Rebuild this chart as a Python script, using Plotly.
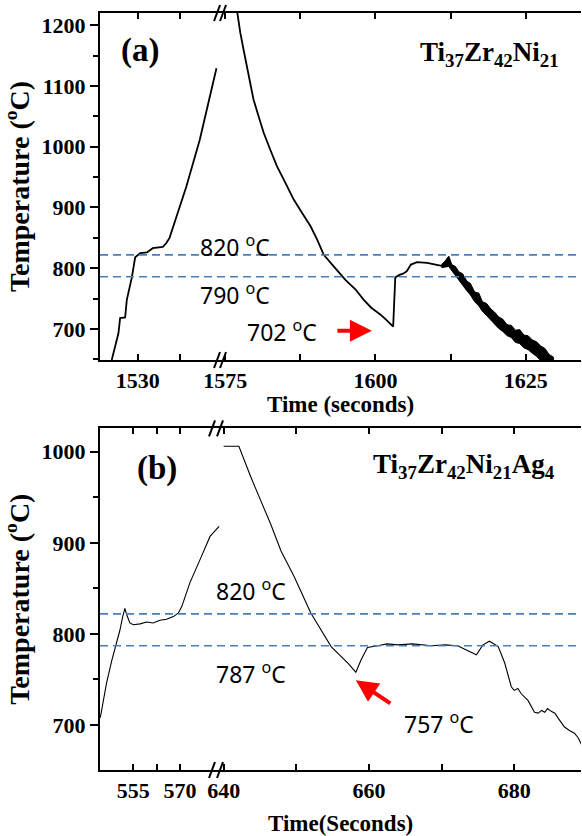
import plotly.graph_objects as go

# ---------------- data ----------------
# Panel (a) Ti37Zr42Ni21 : left (heating) segment
a_left_t = [1526.9, 1527.7, 1527.9, 1528.5, 1528.7, 1529.3, 1529.7, 1530.3, 1531.1,
            1531.8, 1533.0, 1533.4, 1533.8, 1534.6, 1535.8, 1537.4, 1538.2, 1539.4]
a_left_T = [649, 693, 718, 719, 748, 785, 818, 825, 826,
            833, 835, 841, 850, 884, 934, 1011, 1060, 1129]
# Panel (a) right (cooling / recalescence) segment
a_right_t = [1576.8, 1577.0, 1577.2, 1577.5, 1578.05, 1578.6, 1579.2, 1579.7, 1580.55,
             1581.4, 1582.5, 1583.6, 1585.0, 1586.4, 1587.8, 1589.2, 1590.3, 1591.4,
             1593.05, 1595.0, 1596.7, 1598.05, 1599.3, 1600.8, 1601.8, 1602.95, 1603.1,
             1603.3, 1604.0, 1604.6, 1605.2, 1605.9, 1606.9, 1608.6, 1610.0, 1611.0,
             1611.8, 1612.2]
a_right_T = [1235, 1221, 1204, 1188, 1160, 1133, 1105, 1078, 1050,
             1023, 995, 968, 941, 913, 891, 869, 847, 822,
             803, 781, 765, 748, 735, 724, 715, 704, 740,
             785, 789, 791, 795, 806, 810, 809, 806, 804,
             808, 818]
# Panel (a) noisy band after recalescence (upper / lower envelope)
a_band_t = [1611.0, 1611.6, 1612.2, 1612.7, 1613.3, 1613.9, 1614.5, 1615.2, 1615.8,
            1616.5, 1617.2, 1617.8, 1618.5, 1619.2, 1619.8, 1620.5, 1621.2, 1621.9,
            1622.6, 1623.3, 1624.0, 1624.7, 1625.4, 1626.1, 1626.8, 1627.5, 1628.2,
            1628.9, 1629.6]
a_band_hi = [806, 812, 820, 806, 803, 794, 791, 779, 775,
             761, 759, 745, 742, 733, 728, 720, 716, 707,
             706, 698, 699, 690, 689, 682, 679, 672, 668,
             658, 654]
a_band_lo = [801, 802, 803, 796, 788, 779, 772, 763, 756,
             745, 738, 729, 722, 714, 709, 701, 696, 689,
             686, 678, 676, 669, 666, 660, 655, 648, 645,
             636, 632]
a_dash = [822, 786]

# Panel (b) Ti37Zr42Ni21Ag4 : left segment
b_left_t = [544.4, 546.4, 548.1, 549.7, 550.7, 551.6, 552.3, 552.9, 553.9, 555.0,
            557.2, 559.3, 561.4, 563.6, 565.7, 567.9, 569.5, 570.6, 573.2, 576.4,
            579.7, 582.6]
b_left_T = [708, 746, 771, 790, 804, 819, 828, 821, 812, 810,
            811, 813, 812, 815, 816, 819, 823, 830, 856, 881,
            907, 918]
# Panel (b) right segment
b_right_t = [640.0, 642.1, 643.7, 645.1, 646.5, 647.9, 649.7, 652.0, 654.8, 657.1,
             658.2, 658.9, 659.8, 661.2, 662.5, 664.0, 666.0, 668.6, 670.5, 672.2,
             673.6, 674.8, 675.7, 676.6, 677.8, 678.7, 679.6, 680.0, 680.5, 681.0,
             681.9, 682.4, 682.8, 683.3, 683.8, 684.2, 684.6, 685.1, 685.6, 686.1,
             686.5, 686.9, 687.6, 688.3, 688.8, 689.3]
b_right_T = [1006, 1006, 973, 947, 920, 891, 863, 823, 786, 768,
             758, 771, 785, 787, 789, 788, 789, 787, 788, 787,
             782, 777, 788, 792, 786, 768, 742, 738, 740, 734,
             727, 720, 714, 713, 716, 714, 718, 715, 713, 707,
             702, 698, 694, 691, 686, 678]
b_dash = [822, 787]

# tick definitions
a_left_ticks, a_left_text = [1530, 1535], ["1530", ""]
a_right_ticks, a_right_text = [1575, 1587.5, 1600, 1612.5, 1625], ["1575", "", "1600", "", "1625"]
b_left_ticks, b_left_text = [555, 562.5, 570], ["555", "", "570"]
b_right_ticks, b_right_text = [640, 650, 660, 670, 680], ["640", "", "660", "", "680"]
a_y_ticks = [700, 800, 900, 1000, 1100, 1200]
a_y_minor = [650, 750, 850, 950, 1050, 1150]
b_y_ticks = [700, 800, 900, 1000]
b_y_minor = [650, 750, 850, 950]

# ---------------- layout geometry ----------------
W, H = 582, 836
ML, MR, MT, MB = 100, 1, 13, 66
A_BREAK = 0.2578
B_BREAK = 0.2495
A_DOM = [0.5416, 1.0]
B_DOM = [0.0, 0.4514]

SERIF = "Liberation Serif"
SANS = "Noto Sans"
tickfont = dict(family=SERIF, size=22, color="black")


def bold(labels):
    return ["<b>%s</b>" % s if s else "" for s in labels]


fig = go.Figure()
line = dict(color="black", width=1.8)

fig.add_trace(go.Scatter(x=a_left_t, y=a_left_T, xaxis="x", yaxis="y", mode="lines", line=line))
fig.add_trace(go.Scatter(x=a_right_t, y=a_right_T, xaxis="x2", yaxis="y", mode="lines", line=line))
fig.add_trace(go.Scatter(x=a_band_t + a_band_t[::-1], y=a_band_hi + a_band_lo[::-1],
                         xaxis="x2", yaxis="y", mode="lines", fill="toself",
                         fillcolor="black", line=dict(color="black", width=1)))
thin = dict(color="black", width=1.1)
fig.add_trace(go.Scatter(x=b_left_t, y=b_left_T, xaxis="x3", yaxis="y2", mode="lines", line=thin))
fig.add_trace(go.Scatter(x=b_right_t, y=b_right_T, xaxis="x4", yaxis="y2", mode="lines", line=thin))


def xax(dom, rng, tv, tt, anchor):
    return dict(domain=dom, range=rng, anchor=anchor, showline=True, linecolor="black",
                linewidth=2, mirror="ticks", ticks="inside", ticklen=6, tickwidth=1.5,
                tickcolor="black", tickmode="array", tickvals=tv, ticktext=bold(tt),
                tickfont=tickfont, showgrid=False, zeroline=False, automargin=False)


def yax(dom, rng, anchor, tv, mv):
    return dict(domain=dom, range=rng, anchor=anchor, showline=True, linecolor="black",
                linewidth=2, ticks="outside", ticklen=8, tickwidth=1.5, tickcolor="black",
                tickmode="array", tickvals=tv, ticktext=bold([str(v) for v in tv]),
                tickfont=tickfont, showgrid=False, zeroline=False, automargin=False,
                minor=dict(tickmode="array", tickvals=mv, ticks="outside", ticklen=5,
                           tickwidth=1.5, tickcolor="black", showgrid=False),
                title=dict(text="<b>Temperature (<sup>o</sup>C)</b>",
                           font=dict(family=SERIF, size=28, color="black"), standoff=4))


def yax_right(dom, rng, anchor, over, tv, mv):
    return dict(domain=dom, range=rng, anchor=anchor, overlaying=over, side="right",
                showline=True, linecolor="black", linewidth=2, ticks="inside", ticklen=7,
                tickwidth=1.5, tickcolor="black", tickmode="array", tickvals=sorted(tv + mv),
                showticklabels=False, showgrid=False, zeroline=False, automargin=False)


A_YR = [649, 1220]
B_YR = [650.6, 1025.7]
fig.update_layout(
    width=W, height=H, margin=dict(l=ML, r=MR, t=MT, b=MB, autoexpand=False),
    paper_bgcolor="white", plot_bgcolor="white", showlegend=False,
    xaxis=xax([0, A_BREAK], [1525.5, 1540.3], a_left_ticks, a_left_text, "y"),
    xaxis2=xax([A_BREAK, 1], [1574.8, 1634.2], a_right_ticks, a_right_text, "y"),
    xaxis3=xax([0, B_BREAK], [544.3, 582.9], b_left_ticks, b_left_text, "y2"),
    xaxis4=xax([B_BREAK, 1], [639.5, 689.2], b_right_ticks, b_right_text, "y2"),
    yaxis=yax(A_DOM, A_YR, "x", a_y_ticks, a_y_minor),
    yaxis2=yax(B_DOM, B_YR, "x3", b_y_ticks, b_y_minor),
    yaxis3=yax_right(A_DOM, A_YR, "x2", "y", a_y_ticks, a_y_minor),
    yaxis4=yax_right(B_DOM, B_YR, "x4", "y2", b_y_ticks, b_y_minor),
)

shapes = []
for dash_vals, yref in ((a_dash, "y"), (b_dash, "y2")):
    for v in dash_vals:
        shapes.append(dict(type="line", xref="paper", yref=yref, x0=0, x1=1, y0=v, y1=v,
                           line=dict(color="#4a7ebb", width=1.6, dash="8px,5px")))

# axis-break marks "//"
for xb, ys, offs in ((A_BREAK, A_DOM, (-7, -1)), (B_BREAK, B_DOM, (-8, 0))):
    for yy in ys:
        for o in offs:
            shapes.append(dict(type="line", xref="paper", yref="paper",
                               xsizemode="pixel", xanchor=xb, x0=o - 3, x1=o + 3,
                               ysizemode="pixel", yanchor=yy, y0=-8, y1=8,
                               line=dict(color="black", width=2)))
fig.update_layout(shapes=shapes)

ann = []
mid = dict(showarrow=False, yanchor="middle")
ann.append(dict(text="<b>(a)</b>", xref="paper", yref="paper", x=0.083, y=0.951,
                xanchor="center", font=dict(family=SERIF, size=33, color="black"), **mid))
ann.append(dict(text="<b>(b)</b>", xref="paper", yref="paper", x=0.118, y=0.398,
                xanchor="center", font=dict(family=SERIF, size=33, color="black"), **mid))
ann.append(dict(text="<b>Ti<sub>37</sub>Zr<sub>42</sub>Ni<sub>21</sub></b>", xref="paper",
                yref="paper", x=0.958, y=0.946, xanchor="right",
                font=dict(family=SERIF, size=27, color="black"), **mid))
ann.append(dict(text="<b>Ti<sub>37</sub>Zr<sub>42</sub>Ni<sub>21</sub>Ag<sub>4</sub></b>",
                xref="paper", yref="paper", x=0.95, y=0.402, xanchor="right",
                font=dict(family=SERIF, size=27, color="black"), **mid))
labfont = dict(family=SANS, size=23, color="black")
ann.append(dict(text="820 <sup>o</sup>C", xref="x2", yref="y", x=1576.7, y=836,
                font=labfont, **mid))
ann.append(dict(text="790 <sup>o</sup>C", xref="x2", yref="y", x=1576.7, y=757,
                font=labfont, **mid))
ann.append(dict(text="702 <sup>o</sup>C", xref="x2", yref="y", x=1584.5, y=697,
                font=labfont, **mid))
ann.append(dict(text="820 <sup>o</sup>C", xref="x4", yref="y2", x=643.7, y=848,
                font=labfont, **mid))
ann.append(dict(text="787 <sup>o</sup>C", xref="x4", yref="y2", x=643.7, y=757,
                font=labfont, **mid))
ann.append(dict(text="757 <sup>o</sup>C", xref="x4", yref="y2", x=669.6, y=702,
                font=labfont, **mid))
# red arrows
ann.append(dict(x=1599.4, y=697, xref="x2", yref="y", ax=-36, ay=0, text="",
                showarrow=True, arrowhead=2, arrowsize=1.1, arrowwidth=4, arrowcolor="red"))
ann.append(dict(x=658.2, y=749, xref="x4", yref="y2", ax=36, ay=24, text="",
                showarrow=True, arrowhead=2, arrowsize=1.1, arrowwidth=4, arrowcolor="red"))
# x-axis titles
ann.append(dict(text="<b>Time (seconds)</b>", xref="paper", yref="paper", x=0.5, y=A_DOM[0],
                yshift=-44, font=dict(family=SERIF, size=23, color="black"), **mid))
ann.append(dict(text="<b>Time(Seconds)</b>", xref="paper", yref="paper", x=0.5, y=0,
                yshift=-53, font=dict(family=SERIF, size=23, color="black"), **mid))
fig.update_layout(annotations=ann)

fig.write_html("out.html", config={"displayModeBar": False},
               post_script="document.body.style.margin='0';document.body.style.overflow='hidden';")
